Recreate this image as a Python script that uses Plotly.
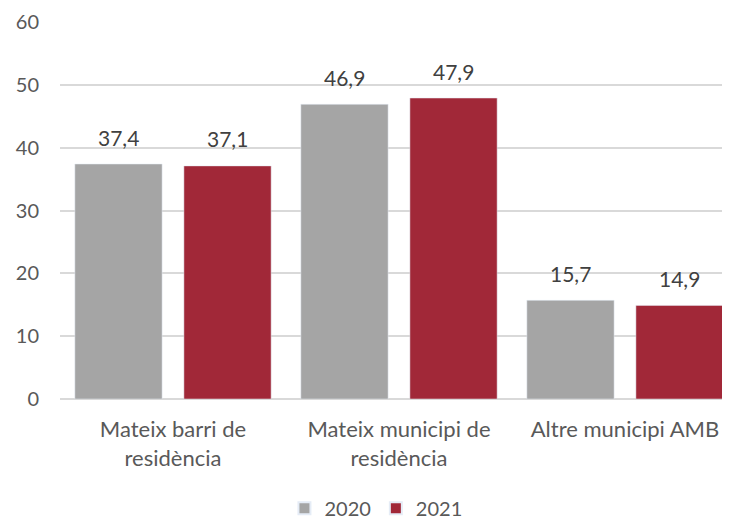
import plotly.graph_objects as go

categories = ["Mateix barri de<br>residència", "Mateix municipi de<br>residència", "Altre municipi AMB"]
values_2020 = [37.4, 46.9, 15.7]
values_2021 = [37.1, 47.9, 14.9]
labels_2020 = ["37,4", "46,9", "15,7"]
labels_2021 = ["37,1", "47,9", "14,9"]
series_names = ["2020", "2021"]
y_ticks = [0, 10, 20, 30, 40, 50, 60]

FONT = "Lato"
TXT = "#595959"
LBL = "#404040"
COLORS = ["#A5A5A5", "#A12838"]

fig = go.Figure()
fig.add_trace(go.Bar(x=categories, y=values_2020, name=series_names[0], marker_color=COLORS[0]))
fig.add_trace(go.Bar(x=categories, y=values_2021, name=series_names[1], marker_color=COLORS[1]))

annotations = []
for vals, labs, shift in [(values_2020, labels_2020, -54.5), (values_2021, labels_2021, 54.5)]:
    for c, v, t in zip(categories, vals, labs):
        annotations.append(dict(x=c, y=v, text=t, showarrow=False, xshift=shift, yshift=27,
                                xref="x", yref="y", font=dict(size=21, color=LBL, family=FONT)))

fig.update_layout(
    width=730, height=522,
    margin=dict(l=52, r=0, t=14, b=131, autoexpand=False),
    paper_bgcolor="white", plot_bgcolor="white",
    barmode="group", bargap=0.035, bargroupgap=0.2,
    font=dict(family=FONT, color=TXT, size=20),
    legend=dict(orientation="h", x=0.466, xanchor="center", y=-0.29, yanchor="middle",
                font=dict(size=20, color=TXT), itemsizing="constant"),
    showlegend=True,
    annotations=annotations,
)
fig.update_yaxes(range=[0, 60], tickvals=y_ticks, showgrid=True, gridcolor="#D9D9D9", gridwidth=1.5,
                 zeroline=True, zerolinecolor="#D9D9D9", zerolinewidth=1.5,
                 tickfont=dict(size=20, color=TXT), ticklabelstandoff=20, showline=False, automargin=False)
fig.update_xaxes(showgrid=False, tickfont=dict(size=22, color=TXT), showline=False, ticklabelstandoff=15,
                 automargin=False)

fig.write_html("out.html")
